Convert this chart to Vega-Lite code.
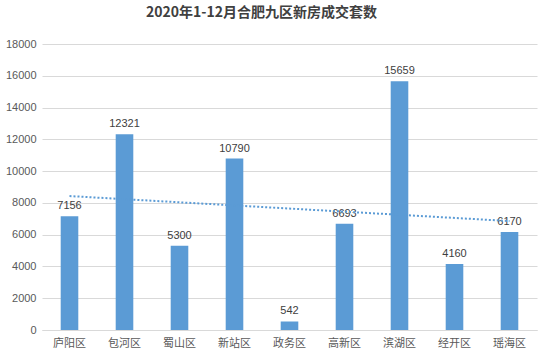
{
  "$schema": "https://vega.github.io/schema/vega-lite/v6.json",
  "autosize": {"type": "none"},
  "width": 495,
  "height": 286,
  "padding": {"left": 42, "top": 44, "right": 13, "bottom": 29},
  "background": "white",
  "title": {
    "text": "2020年1-12月合肥九区新房成交套数",
    "font": "Noto Sans CJK SC",
    "fontSize": 14,
    "fontWeight": "bold",
    "color": "#404040",
    "anchor": "middle",
    "frame": "group",
    "offset": 18,
    "dx": -28
  },
  "data": {
    "values": [
      {"idx": 1, "district": "庐阳区", "value": 7156},
      {"idx": 2, "district": "包河区", "value": 12321},
      {"idx": 3, "district": "蜀山区", "value": 5300},
      {"idx": 4, "district": "新站区", "value": 10790},
      {"idx": 5, "district": "政务区", "value": 542},
      {"idx": 6, "district": "高新区", "value": 6693},
      {"idx": 7, "district": "滨湖区", "value": 15659},
      {"idx": 8, "district": "经开区", "value": 4160},
      {"idx": 9, "district": "瑶海区", "value": 6170}
    ]
  },
  "config": {
    "view": {"stroke": null},
    "font": "Noto Sans CJK SC"
  },
  "encoding": {
    "y": {
      "field": "value", "type": "quantitative",
      "scale": {"domain": [0, 18000], "nice": false},
      "axis": {"title": null, "values": [0,2000,4000,6000,8000,10000,12000,14000,16000,18000], "format": "d", "labelOverlap": false, "domain": false, "ticks": false, "gridColor": "#d9d9d9", "labelColor": "#595959", "labelFontSize": 11, "labelPadding": 6, "labelFont": "Liberation Sans"}
    }
  },
  "layer": [
    {
      "encoding": {
        "x": {
          "field": "district", "type": "nominal", "sort": null,
          "scale": {"paddingInner": 0.68, "paddingOuter": 0.34},
          "axis": {"title": null, "labelAngle": 0, "ticks": false, "domainColor": "#d9d9d9", "labelColor": "#595959", "labelFontSize": 11, "labelPadding": 7, "labelFont": "Noto Sans CJK SC"}
        }
      },
      "layer": [
        {"mark": {"type": "bar", "color": "#5b9bd5"}},
        {
          "mark": {"type": "text", "baseline": "bottom", "dy": -5, "fontSize": 11, "color": "#404040", "font": "Liberation Sans"},
          "encoding": {"text": {"field": "value", "type": "quantitative", "format": "d"}}
        }
      ]
    },
    {
      "transform": [{"regression": "value", "on": "idx"}],
      "mark": {"type": "line", "color": "#5b9bd5", "strokeDash": [2, 2], "strokeWidth": 2},
      "encoding": {
        "x": {"field": "idx", "type": "quantitative", "scale": {"domain": [0.5, 9.5], "nice": false, "zero": false}, "axis": null}
      }
    }
  ],
  "resolve": {"scale": {"x": "independent"}}
}
